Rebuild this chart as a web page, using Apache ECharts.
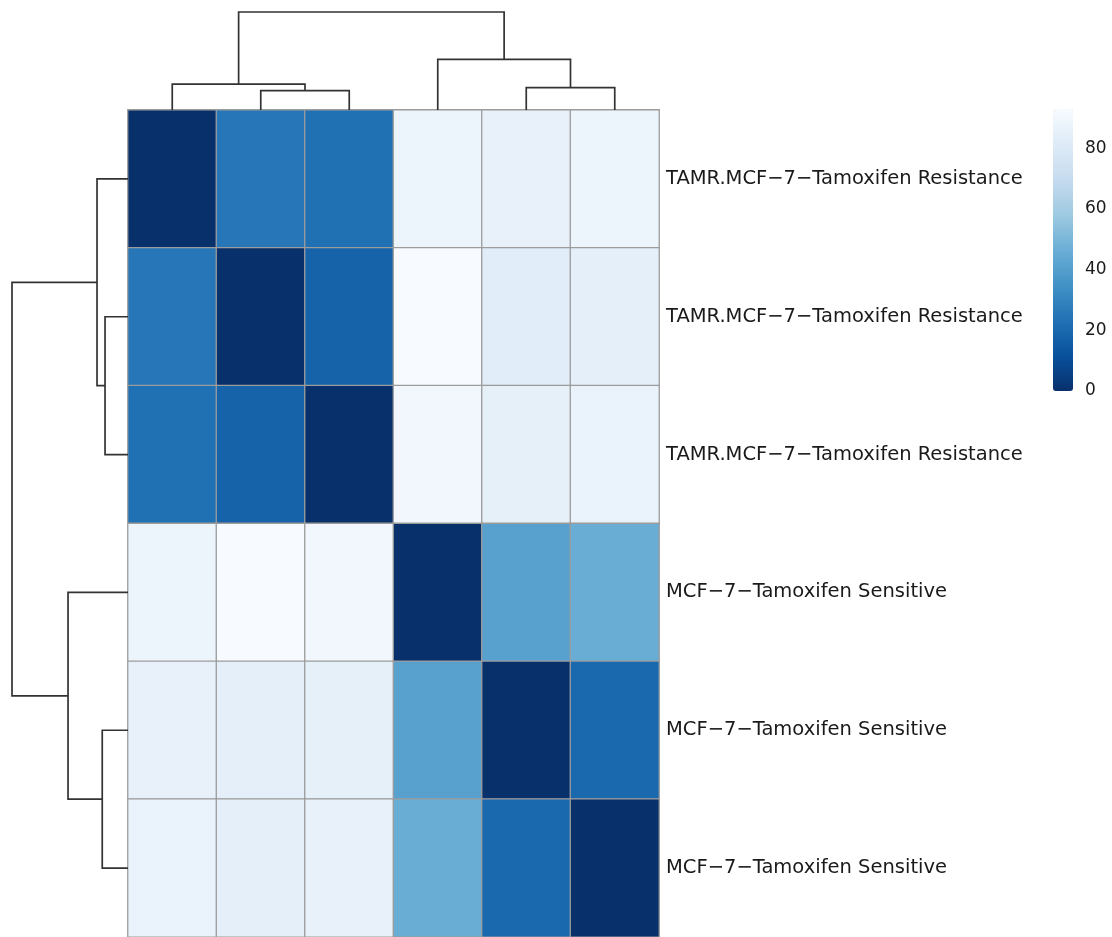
<!DOCTYPE html>
<html>
<head>
<meta charset="utf-8">
<script src="https://cdn.jsdelivr.net/npm/echarts@6/dist/echarts.min.js"></script>
<style>
  html, body { margin: 0; padding: 0; background: #ffffff; }
  #chart { width: 1112px; height: 937px; }
</style>
</head>
<body>
<div id="chart"></div>
<script>
// ---------------- data ----------------
const colIds = ['c1', 'c2', 'c3', 'c4', 'c5', 'c6'];
const rowIds = ['r1', 'r2', 'r3', 'r4', 'r5', 'r6'];
const rowLabels = [
  'TAMR.MCF\u22127\u2212Tamoxifen Resistance',
  'TAMR.MCF\u22127\u2212Tamoxifen Resistance',
  'TAMR.MCF\u22127\u2212Tamoxifen Resistance',
  'MCF\u22127\u2212Tamoxifen Sensitive',
  'MCF\u22127\u2212Tamoxifen Sensitive',
  'MCF\u22127\u2212Tamoxifen Sensitive'
];
// matrix values, rows top -> bottom, columns left -> right
const row1 = [0, 25, 23, 88, 86, 88];
const row2 = [25, 0, 18, 93, 83, 84];
const row3 = [23, 18, 0, 90, 85, 87];
const row4 = [88, 93, 90, 0, 41, 46];
const row5 = [86, 84, 85, 41, 0, 20];
const row6 = [87, 84, 86, 46, 20, 0];
const matrixRows = [row1, row2, row3, row4, row5, row6];

// colour scale
const valueMin = 0;
const valueMax = 93;
const legendTicks = [0, 20, 40, 60, 80];
const bluesRev = ['#08306B', '#08519C', '#2171B5', '#4292C6', '#6BAED6',
                  '#9ECAE1', '#C6DBEF', '#DEEBF7', '#F7FBFF'];

// dendrograms (hclust style: negative = leaf number, positive = earlier merge)
const colMerge = [[-2, -3], [-5, -6], [-1, 1], [-4, 2], [3, 4]];
const colHeight = [0.197, 0.228, 0.265, 0.517, 1.0];
const rowMerge = [[-2, -3], [-5, -6], [-1, 1], [-4, 2], [3, 4]];
const rowHeight = [0.198, 0.222, 0.267, 0.517, 1.0];

// ---------------- build ----------------
const heatData = [];
matrixRows.forEach((r, ri) => r.forEach((v, ci) => heatData.push([ci, ri, v])));

function dendroSegments(merge, heights) {
  const pos = [], segs = [];
  const info = (k) => k < 0 ? { p: -k - 0.5, h: 0 } : { p: pos[k - 1], h: heights[k - 1] };
  merge.forEach((m, i) => {
    const a = info(m[0]), b = info(m[1]);
    pos.push((a.p + b.p) / 2);
    segs.push([a.p, a.h, b.p, b.h, heights[i]]);
  });
  return segs;
}
const colSegs = dendroSegments(colMerge, colHeight);
const rowSegs = dendroSegments(rowMerge, rowHeight);

const lineStyle = { stroke: '#333333', lineWidth: 1.7, fill: null };

const option = {
  backgroundColor: '#ffffff',
  animation: false,
  grid: [
    { left: 128, top: 110, width: 531, height: 830 },   // heatmap
    { left: 128, top: 12, width: 531, height: 98 },     // column dendrogram
    { left: 12, top: 110, width: 116, height: 830 },    // row dendrogram
    { left: 1053, top: 109, width: 20, height: 282 }    // legend scale
  ],
  xAxis: [
    { gridIndex: 0, type: 'category', data: colIds, show: false },
    { gridIndex: 1, type: 'value', min: 0, max: 6, show: false },
    { gridIndex: 2, type: 'value', min: 0, max: 1, inverse: true, show: false },
    { gridIndex: 3, type: 'category', data: ['bar'], show: false }
  ],
  yAxis: [
    {
      gridIndex: 0, type: 'category', data: rowIds, inverse: true, position: 'right',
      axisLine: { show: false }, axisTick: { show: false }, splitLine: { show: false },
      axisLabel: {
        interval: 0, margin: 7, fontSize: 19.5, fontFamily: 'DejaVu Sans', color: '#1a1a1a',
        padding: [4, 0, 0, 0],
        formatter: (v, i) => rowLabels[i]
      }
    },
    { gridIndex: 1, type: 'value', min: 0, max: 1, show: false },
    { gridIndex: 2, type: 'value', min: 0, max: 6, inverse: true, show: false },
    {
      gridIndex: 3, type: 'value', min: valueMin, max: valueMax, interval: 20, position: 'right',
      axisLine: { show: false }, axisTick: { show: false }, splitLine: { show: false },
      axisLabel: {
        margin: 12, fontSize: 17, fontFamily: 'DejaVu Sans', color: '#1a1a1a',
        formatter: (v) => legendTicks.indexOf(v) >= 0 ? String(v) : ''
      }
    }
  ],
  visualMap: {
    type: 'continuous',
    seriesIndex: 0,
    dimension: 2,
    min: valueMin,
    max: valueMax,
    calculable: false,
    hoverLink: false,
    left: 1053,
    top: 109,
    padding: 0,
    itemWidth: 20,
    itemHeight: 282,
    inRange: { color: bluesRev }
  },
  series: [
    {
      type: 'heatmap',
      xAxisIndex: 0, yAxisIndex: 0,
      data: heatData,
      itemStyle: { borderColor: '#9c9c9c', borderWidth: 1.3 },
      emphasis: { disabled: true }
    },
    {
      type: 'custom',
      xAxisIndex: 1, yAxisIndex: 1,
      data: colSegs,
      encode: { x: [0, 2], y: [1, 3, 4] },
      silent: true,
      renderItem: (params, api) => {
        const p1 = api.coord([api.value(0), api.value(1)]);
        const p2 = api.coord([api.value(0), api.value(4)]);
        const p3 = api.coord([api.value(2), api.value(4)]);
        const p4 = api.coord([api.value(2), api.value(3)]);
        return { type: 'polyline', shape: { points: [p1, p2, p3, p4] }, style: lineStyle };
      }
    },
    {
      type: 'custom',
      xAxisIndex: 2, yAxisIndex: 2,
      data: rowSegs,
      encode: { x: [1, 3, 4], y: [0, 2] },
      silent: true,
      renderItem: (params, api) => {
        const p1 = api.coord([api.value(1), api.value(0)]);
        const p2 = api.coord([api.value(4), api.value(0)]);
        const p3 = api.coord([api.value(4), api.value(2)]);
        const p4 = api.coord([api.value(3), api.value(2)]);
        return { type: 'polyline', shape: { points: [p1, p2, p3, p4] }, style: lineStyle };
      }
    },
    {
      type: 'line',
      xAxisIndex: 3, yAxisIndex: 3,
      data: [],
      silent: true
    }
  ]
};

const chart = echarts.init(document.getElementById('chart'), null, { renderer: 'canvas' });
chart.setOption(option);
</script>
</body>
</html>
